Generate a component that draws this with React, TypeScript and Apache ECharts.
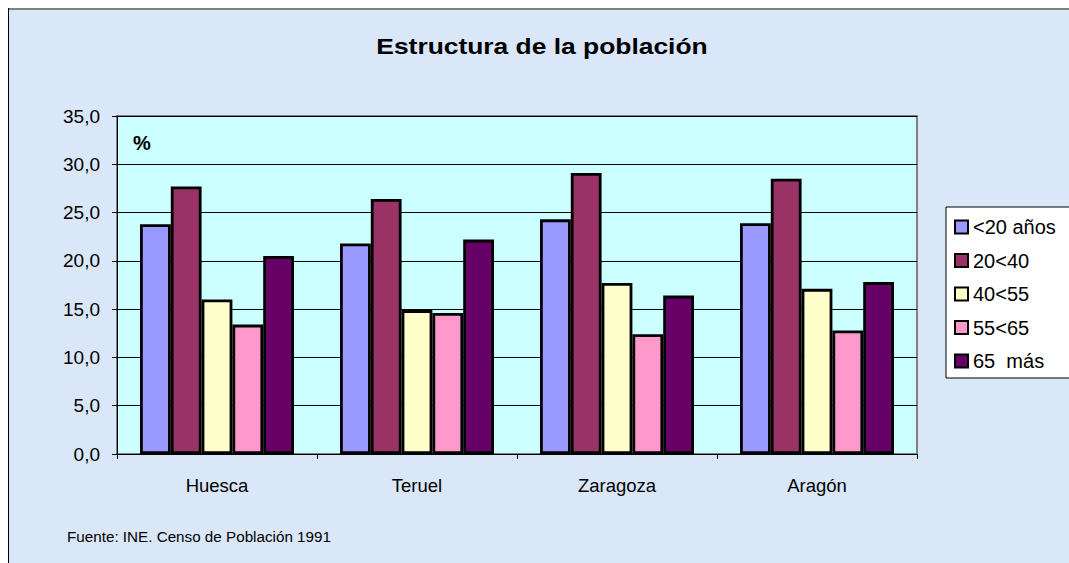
import React, { useEffect, useRef } from "react";
import * as echarts from "echarts";

const categories = ["Huesca", "Teruel", "Zaragoza", "Aragón"];
const seriesNames = ["<20 años", "20<40", "40<55", "55<65", "65  más"];
const menos20 = [23.8, 21.8, 24.3, 23.9];
const de20a40 = [27.7, 26.4, 29.1, 28.5];
const de40a55 = [16.0, 14.9, 17.7, 17.1];
const de55a65 = [13.4, 14.6, 12.4, 12.8];
const mas65 = [20.5, 22.2, 16.4, 17.8];
const seriesValues = [menos20, de20a40, de40a55, de55a65, mas65];
const colors = ["#9999ff", "#993366", "#ffffcc", "#ff99cc", "#660066"];

const FONT = 'Arial, "Liberation Sans", sans-serif';

export default function App() {
  const ref = useRef<HTMLDivElement>(null);
  useEffect(() => {
    if (!ref.current) return;
    const chart = echarts.init(ref.current, undefined, { renderer: "svg" });
    chart.setOption({
      animation: false,
      backgroundColor: "#d9e7f9",
      textStyle: { fontFamily: FONT },
      legend: {
        orient: "vertical",
        left: 938,
        top: 199,
        icon: "rect",
        itemWidth: 13,
        itemHeight: 13,
        itemGap: 13.5,
        padding: [10, 19, 7, 8],
        backgroundColor: "#ffffff",
        borderColor: "#000",
        borderWidth: 1,
        textStyle: { fontFamily: FONT, fontSize: 20, lineHeight: 20, color: "#000" },
        itemStyle: { borderColor: "#000", borderWidth: 2 },
        data: seriesNames,
      },
      grid: {
        left: 109,
        top: 108,
        right: 152,
        bottom: 109,
        show: true,
        backgroundColor: "#ccffff",
        borderColor: "#808080",
        borderWidth: 2,
        containLabel: false,
      },
      xAxis: {
        type: "category",
        data: categories,
        axisLine: { show: true, lineStyle: { color: "#000", width: 1 } },
        axisTick: { show: true, length: 5, lineStyle: { color: "#000" } },
        axisLabel: { fontFamily: FONT, fontSize: 18.5, color: "#000", margin: 22 },
      },
      yAxis: {
        type: "value",
        min: 0,
        max: 35,
        interval: 5,
        axisLine: { show: true, lineStyle: { color: "#000", width: 1 } },
        axisTick: { show: true, length: 5, lineStyle: { color: "#000" } },
        axisLabel: {
          fontFamily: FONT,
          fontSize: 19,
          color: "#000",
          margin: 17,
          formatter: (v: number) => v.toFixed(1).replace(".", ","),
        },
        splitLine: { show: true, lineStyle: { color: "#000", width: 1 } },
      },
      series: seriesNames.map((name, i) => ({
        name,
        type: "bar",
        data: seriesValues[i],
        barGap: "0%",
        barCategoryGap: "23%",
        itemStyle: { color: colors[i], borderColor: "#000", borderWidth: 2.8 },
      })),
      graphic: [
        {
          type: "line",
          shape: { x1: 0, y1: 1, x2: 1061, y2: 1 },
          style: { stroke: "#808080", lineWidth: 2 },
        },
        {
          type: "line",
          shape: { x1: 0.5, y1: 0, x2: 0.5, y2: 555 },
          style: { stroke: "#000", lineWidth: 1 },
        },
        {
          type: "text",
          x: 534,
          y: 38,
          scaleX: 1.2,
          style: {
            text: "Estructura de la población",
            fontFamily: FONT,
            fontSize: 22,
            fontWeight: "bold",
            fill: "#000",
            align: "center",
            verticalAlign: "middle",
          },
        },
        {
          type: "text",
          x: 125,
          y: 135,
          style: {
            text: "%",
            fontFamily: FONT,
            fontSize: 20,
            fontWeight: "bold",
            fill: "#000",
            align: "left",
            verticalAlign: "middle",
          },
        },
        {
          type: "text",
          x: 59,
          y: 529,
          scaleX: 1.05,
          style: {
            text: "Fuente: INE. Censo de Población 1991",
            fontFamily: FONT,
            fontSize: 14.5,
            fill: "#000",
            align: "left",
            verticalAlign: "middle",
          },
        },
      ],
    });
    return () => chart.dispose();
  }, []);
  return (
    <div
      ref={ref}
      style={{ position: "absolute", left: 8, top: 8, width: 1061, height: 555 }}
    />
  );
}
